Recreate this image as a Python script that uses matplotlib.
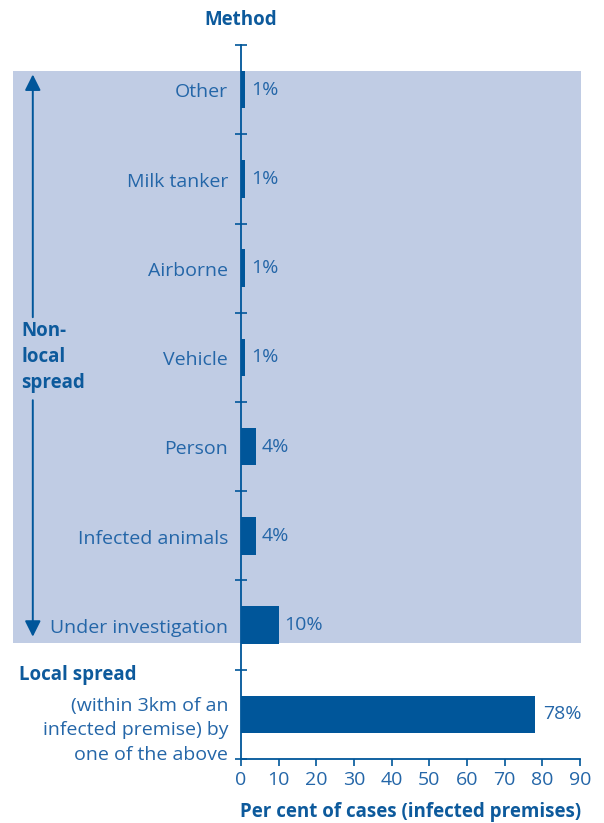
import matplotlib.pyplot as plt
from matplotlib.patches import Rectangle

plt.rcParams['font.family'] = ['Open Sans', 'DejaVu Sans']

methods = ['Other', 'Milk tanker', 'Airborne', 'Vehicle', 'Person',
           'Infected animals', 'Under investigation']
method_pct = [1, 1, 1, 1, 4, 4, 10]
local_label = '(within 3km of an\ninfected premise) by\none of the above'
local_pct = 78
xticks = [0, 10, 20, 30, 40, 50, 60, 70, 80, 90]

bar_col = '#00569a'
text_col = '#2466a8'
head_col = '#0d5a9c'
shade = '#c0cce4'
fs = 14
fs_b = 13.5

fig = plt.figure(figsize=(6.04, 8.23), dpi=100)
ax = fig.add_axes([0.399, 0.0778, 0.561, 0.8675])

# bottom bar is local spread, methods stacked above it
ypos = list(range(len(methods), 0, -1))
ax.barh(ypos, method_pct, height=0.42, color=bar_col, zorder=3)
ax.barh([0], [local_pct], height=0.42, color=bar_col, zorder=3)

for y, v in zip(ypos, method_pct):
    ax.text(v + 1.6, y + 0.0, f'{v}%', va='center', ha='left',
            fontsize=fs, color=text_col)
    ax.text(-3.4, y - 0.03, methods[len(methods) - y], va='center', ha='right',
            fontsize=fs, color=text_col)
ax.text(local_pct + 2.2, 0.0, f'{local_pct}%', va='center', ha='left',
        fontsize=fs, color=text_col)
ax.text(-3.4, -0.18, local_label, va='center', ha='right', fontsize=fs,
        color=text_col, linespacing=1.45)
ax.text(-59.0, 0.44, 'Local spread', va='center', ha='left', fontsize=fs_b,
        fontweight='bold', color=head_col)

# shaded block behind the non-local methods
ax.add_patch(Rectangle((-60.5, 0.80), 150.8, 6.41, facecolor=shade,
                       edgecolor='none', zorder=0, clip_on=False))

# arrow spanning the non-local block, broken by its label
ax.annotate('', xy=(-55.3, 7.17), xytext=(-55.3, 4.45),
            arrowprops=dict(arrowstyle='-|>', color=bar_col, lw=1.4,
                            mutation_scale=24, shrinkA=0, shrinkB=0),
            annotation_clip=False)
ax.annotate('', xy=(-55.3, 0.87), xytext=(-55.3, 3.52),
            arrowprops=dict(arrowstyle='-|>', color=bar_col, lw=1.4,
                            mutation_scale=24, shrinkA=0, shrinkB=0),
            annotation_clip=False)
ax.text(-58.3, 4.0, 'Non-\nlocal\nspread', va='center', ha='left',
        fontsize=fs_b, fontweight='bold', color=head_col, linespacing=1.4)

ax.set_xlim(0, 90)
ax.set_ylim(-0.5, 7.5)
ax.set_xticks(xticks)
ax.set_xticklabels([str(t) for t in xticks], fontsize=fs, color=text_col)
ax.set_yticks([i + 0.5 for i in range(-1, 8)])
ax.set_yticklabels([])
ax.tick_params(axis='y', direction='inout', length=9, width=1.2, color=bar_col)
ax.tick_params(axis='x', direction='out', length=5, width=1.2, color=bar_col,
               pad=4)
for s in ['top', 'right']:
    ax.spines[s].set_visible(False)
for s in ['left', 'bottom']:
    ax.spines[s].set_color(bar_col)
    ax.spines[s].set_linewidth(1.3)
ax.patch.set_alpha(0)

ax.set_xlabel('Per cent of cases (infected premises)', fontsize=fs_b,
              fontweight='bold', color=head_col, labelpad=9)
fig.text(0.399, 0.976, 'Method', ha='center', va='center', fontsize=fs_b,
         fontweight='bold', color=head_col)

fig.savefig('out.png', dpi=100)
